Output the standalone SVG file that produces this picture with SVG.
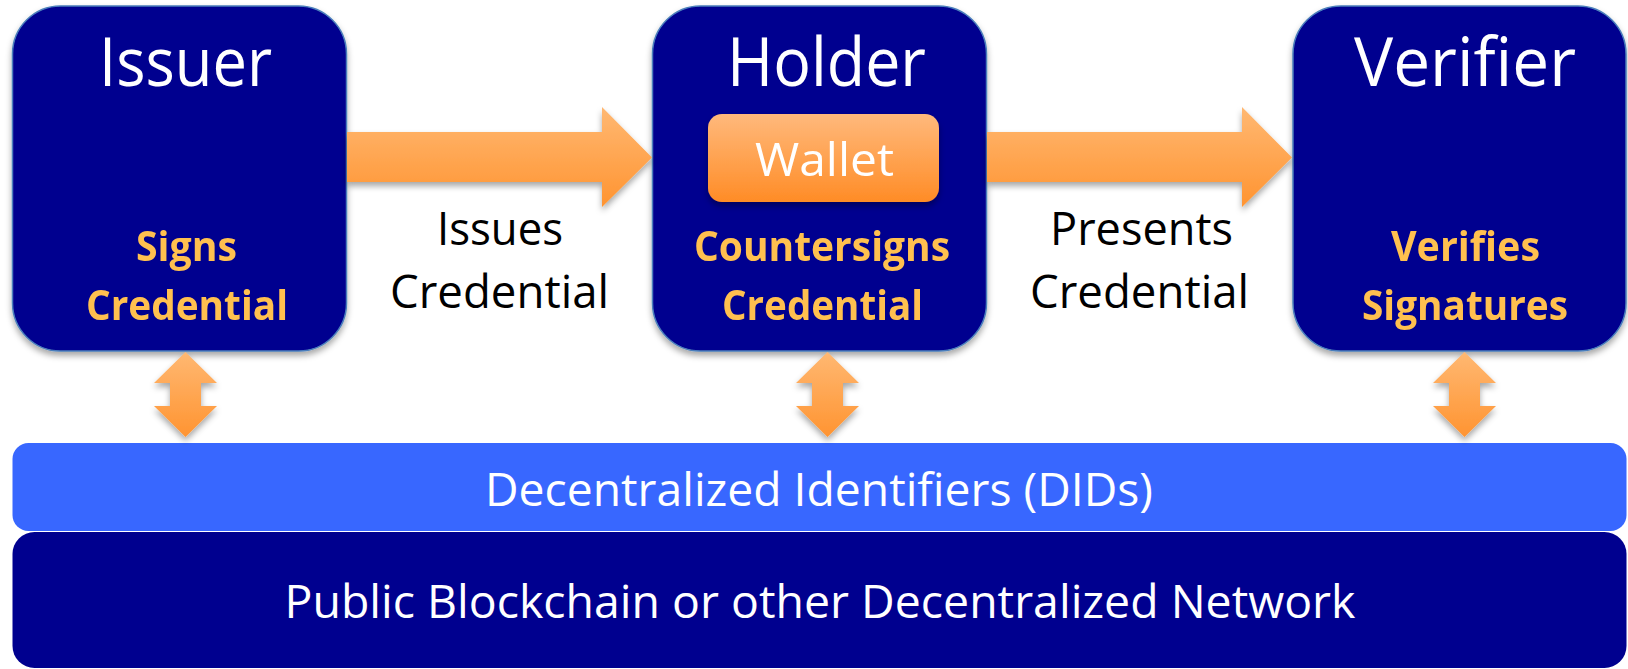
<svg xmlns="http://www.w3.org/2000/svg" width="1628" height="669" viewBox="0 0 1628 669">
<defs>
<linearGradient id="gArrow" x1="0" y1="0" x2="0" y2="1">
<stop offset="0" stop-color="#FFB872"/>
<stop offset="1" stop-color="#FF9431"/>
</linearGradient>
<linearGradient id="gWallet" x1="0" y1="0" x2="0" y2="1">
<stop offset="0" stop-color="#FFB97C"/>
<stop offset="1" stop-color="#FF8C26"/>
</linearGradient>
<filter id="shadow" x="-10%" y="-10%" width="120%" height="130%">
<feDropShadow dx="0" dy="4" stdDeviation="3" flood-color="#000" flood-opacity="0.35"/>
</filter>
</defs>
<style>
.node{fill:#00008F;stroke:#4A7EBB;stroke-width:1.5}
.title{font-family:"Open Sans","Liberation Sans",sans-serif;font-size:67px;fill:#FFFFFF;text-anchor:middle}
.sub{font-family:"Open Sans","Liberation Sans",sans-serif;font-size:42px;font-weight:bold;fill:#FFC04F;text-anchor:middle}
.lbl{font-family:"Open Sans","Liberation Sans",sans-serif;font-size:46px;fill:#000000;text-anchor:middle}
.wtxt{font-family:"Open Sans","Liberation Sans",sans-serif;font-size:46px;fill:#FFFFFF;text-anchor:middle}
.arrow{fill:url(#gArrow);filter:url(#shadow)}
</style>
<rect width="1628" height="669" fill="#FFFFFF"/>

<g id="blockchain">
<rect x="12.5" y="532" width="1614" height="136" rx="22" fill="#00008F"/>
<text class="wtxt" x="820" y="618" textLength="1071" lengthAdjust="spacingAndGlyphs">Public Blockchain or other Decentralized Network</text>
</g>

<g id="dids">
<rect x="12.5" y="443" width="1614" height="88" rx="16" fill="#3867FF"/>
<text class="wtxt" x="819" y="506" textLength="668" lengthAdjust="spacingAndGlyphs">Decentralized Identifiers (DIDs)</text>
</g>

<g id="issuer" filter="url(#shadow)">
<rect class="node" x="12.5" y="6" width="334" height="345" rx="48"/>
<text class="title" x="185.5" y="86" textLength="173" lengthAdjust="spacingAndGlyphs">Issuer</text>
<text class="sub" x="186.5" y="261" textLength="101" lengthAdjust="spacingAndGlyphs">Signs</text>
<text class="sub" x="187" y="320" textLength="202" lengthAdjust="spacingAndGlyphs">Credential</text>
</g>

<g id="holder" filter="url(#shadow)">
<rect class="node" x="652.5" y="6" width="334" height="345" rx="48"/>
<text class="title" x="826.5" y="86" textLength="199" lengthAdjust="spacingAndGlyphs">Holder</text>
<text class="sub" x="822" y="261" textLength="256" lengthAdjust="spacingAndGlyphs">Countersigns</text>
<text class="sub" x="822.5" y="320" textLength="201" lengthAdjust="spacingAndGlyphs">Credential</text>
</g>

<g id="wallet" filter="url(#shadow)">
<rect x="708" y="114" width="231" height="88" rx="14" fill="url(#gWallet)"/>
<text class="wtxt" x="824.5" y="176" textLength="139" lengthAdjust="spacingAndGlyphs">Wallet</text>
</g>

<g id="verifier" filter="url(#shadow)">
<rect class="node" x="1293" y="6" width="333" height="345" rx="48"/>
<text class="title" x="1465" y="86" textLength="222" lengthAdjust="spacingAndGlyphs">Verifier</text>
<text class="sub" x="1465.5" y="261" textLength="149" lengthAdjust="spacingAndGlyphs">Verifies</text>
<text class="sub" x="1465" y="320" textLength="206" lengthAdjust="spacingAndGlyphs">Signatures</text>
</g>

<g id="connectors">
<polygon class="arrow" points="347,132 602,132 602,107 652,157.5 602,207 602,182 347,182"/>
<polygon class="arrow" points="987,132 1242,132 1242,107 1292,157.5 1242,207 1242,182 987,182"/>
<text class="lbl" x="500" y="245" textLength="126" lengthAdjust="spacingAndGlyphs">Issues</text>
<text class="lbl" x="499.5" y="308" textLength="219" lengthAdjust="spacingAndGlyphs">Credential</text>
<text class="lbl" x="1141.5" y="245" textLength="183" lengthAdjust="spacingAndGlyphs">Presents</text>
<text class="lbl" x="1139.5" y="308" textLength="219" lengthAdjust="spacingAndGlyphs">Credential</text>
<polygon class="arrow" points="185.5,352 217,383 201,383 201,406 217,406 185.5,437 154,406 170,406 170,383 154,383"/>
<polygon class="arrow" points="827.5,352 859,383 843,383 843,406 859,406 827.5,437 796,406 812,406 812,383 796,383"/>
<polygon class="arrow" points="1464.5,352 1496,383 1480,383 1480,406 1496,406 1464.5,437 1433,406 1449,406 1449,383 1433,383"/>
</g>
</svg>
